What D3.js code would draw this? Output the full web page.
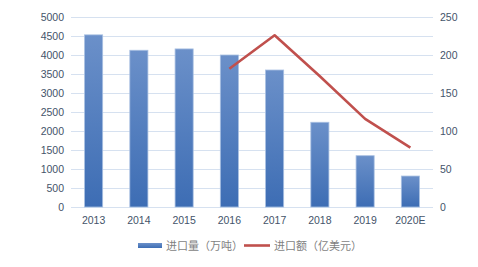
<!DOCTYPE html>
<html>
<head>
<meta charset="utf-8">
<script src="https://cdn.jsdelivr.net/npm/d3@7/dist/d3.min.js"></script>
<style>
  body { margin: 0; background: #fff; }
  svg text { font-family: "Liberation Sans", "Noto Sans CJK SC", sans-serif; }
</style>
</head>
<body>
<div id="chart"></div>
<script>
const years = ["2013", "2014", "2015", "2016", "2017", "2018", "2019", "2020E"];
const volume = [4530, 4125, 4160, 4000, 3605, 2230, 1350, 815];
const valueYears = ["2016", "2017", "2018", "2019", "2020E"];
const value = [182, 226, 172, 116, 78];
const leftTicks = [0, 500, 1000, 1500, 2000, 2500, 3000, 3500, 4000, 4500, 5000];
const rightTicks = [0, 50, 100, 150, 200, 250];
const seriesNames = ["进口量（万吨）", "进口额（亿美元）"];

const width = 478, height = 267;
const area = { left: 71, right: 433, top: 17, bottom: 207 };

const svg = d3.select("#chart").append("svg")
    .attr("width", width)
    .attr("height", height);

const defs = svg.append("defs");
const grad = defs.append("linearGradient")
    .attr("id", "barGrad")
    .attr("x1", 0).attr("y1", 0).attr("x2", 0).attr("y2", 1);
grad.append("stop").attr("offset", "0%").attr("stop-color", "#6b90c9");
grad.append("stop").attr("offset", "100%").attr("stop-color", "#3d6db4");

const x = d3.scaleBand()
    .domain(years)
    .range([area.left, area.right])
    .paddingInner(0.6)
    .paddingOuter(0.3);

const yLeft = d3.scaleLinear().domain([0, 5000]).range([area.bottom, area.top]);
const yRight = d3.scaleLinear().domain([0, 250]).range([area.bottom, area.top]);

// gridlines
svg.append("g")
    .selectAll("line")
    .data(leftTicks)
    .join("line")
    .attr("x1", area.left)
    .attr("x2", area.right)
    .attr("y1", d => Math.round(yLeft(d)) + 0.5)
    .attr("y2", d => Math.round(yLeft(d)) + 0.5)
    .attr("stroke", "#d6e1f0")
    .attr("stroke-width", 1.2);

const axisColor = "#44546a";

// left axis labels
svg.append("g")
    .selectAll("text")
    .data(leftTicks)
    .join("text")
    .attr("x", 64)
    .attr("y", d => yLeft(d) + 4)
    .attr("text-anchor", "end")
    .attr("font-size", 10.5)
    .attr("fill", axisColor)
    .text(d => d);

// right axis labels
svg.append("g")
    .selectAll("text")
    .data(rightTicks)
    .join("text")
    .attr("x", 440)
    .attr("y", d => yRight(d) + 4)
    .attr("text-anchor", "start")
    .attr("font-size", 10.5)
    .attr("fill", axisColor)
    .text(d => d);

// x labels
svg.append("g")
    .selectAll("text")
    .data(years)
    .join("text")
    .attr("x", d => x(d) + x.bandwidth() / 2)
    .attr("y", 224)
    .attr("text-anchor", "middle")
    .attr("font-size", 10.5)
    .attr("fill", axisColor)
    .text(d => d);

// bars
svg.append("g")
    .selectAll("rect")
    .data(volume)
    .join("rect")
    .attr("x", (d, i) => x(years[i]))
    .attr("y", d => yLeft(d))
    .attr("width", x.bandwidth())
    .attr("height", d => yLeft(0) - yLeft(d))
    .attr("fill", "url(#barGrad)")
    .attr("stroke", "#a9c0e2")
    .attr("stroke-width", 0.8);

// line
const line = d3.line()
    .x((d, i) => x(valueYears[i]) + x.bandwidth() / 2)
    .y(d => yRight(d));

svg.append("path")
    .datum(value)
    .attr("d", line)
    .attr("fill", "none")
    .attr("stroke", "#c0504d")
    .attr("stroke-width", 2.6)
    .attr("stroke-linejoin", "round");

// legend
const legend = svg.append("g");
legend.append("rect")
    .attr("x", 138).attr("y", 243)
    .attr("width", 24).attr("height", 5)
    .attr("fill", "url(#barGrad)");
legend.append("text")
    .attr("x", 166).attr("y", 249.5)
    .attr("font-size", 11)
    .attr("fill", "#7f7f7f")
    .text(seriesNames[0]);
legend.append("line")
    .attr("x1", 244).attr("x2", 270)
    .attr("y1", 245.5).attr("y2", 245.5)
    .attr("stroke", "#c0504d")
    .attr("stroke-width", 2.6);
legend.append("text")
    .attr("x", 274).attr("y", 249.5)
    .attr("font-size", 11)
    .attr("fill", "#7f7f7f")
    .text(seriesNames[1]);
</script>
</body>
</html>
